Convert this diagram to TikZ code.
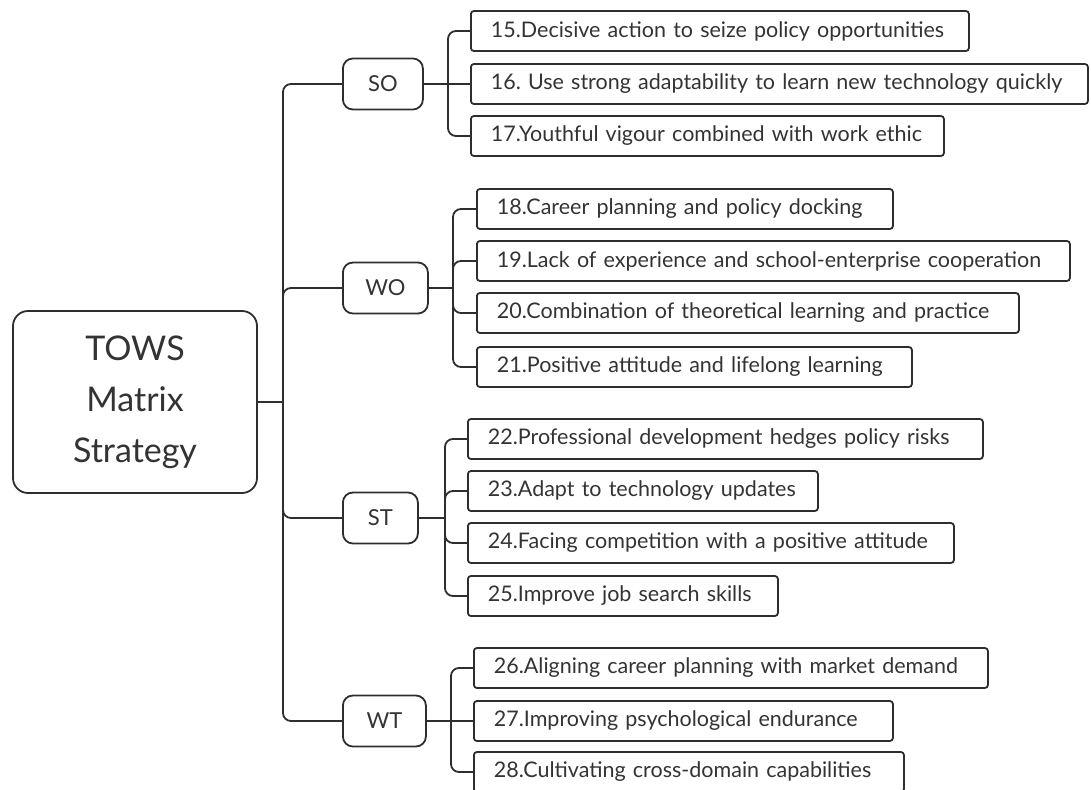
\documentclass[tikz,border=0pt]{standalone}
\usepackage{fontspec}
\setmainfont{Lato}
\frenchspacing
\definecolor{ink}{HTML}{2E2E2E}
\definecolor{txt}{HTML}{333333}
\begin{document}
\begin{tikzpicture}[x=1pt,y=-1pt,
  link/.style={draw=ink, line width=1.8pt, rounded corners=8pt},
  rootbox/.style={draw=ink, line width=1.8pt, rounded corners=15pt, minimum width=244pt,
    minimum height=182pt, align=center, text=txt,
    font=\fontsize{34}{51}\selectfont},
  catbox/.style={draw=ink, line width=1.8pt, rounded corners=10pt, minimum height=51pt,
    anchor=west, inner sep=0pt, text=txt, font=\fontsize{22}{26}\selectfont},
  leaf/.style={draw=ink, line width=1.8pt, rounded corners=3pt, minimum height=40pt,
    inner xsep=20pt, inner ysep=0pt, anchor=west, align=left, text=txt,
    font=\fontsize{21.5}{25}\selectfont}]
\useasboundingbox (0,0) rectangle (1091,789);

% root and the four strategy groups
\node[rootbox] (root) at (135,402) {TOWS\\Matrix\\Strategy};
\node[catbox, minimum width=80pt] (so) at (342,84) {SO};
\node[catbox, minimum width=85pt] (wo) at (342,288) {WO};
\node[catbox, minimum width=75pt] (st) at (342,518) {ST};
\node[catbox, minimum width=83pt] (wt) at (342,721) {WT};

% SO strategies
\node[leaf, text width=458pt] (l15) at (470,31) {15.Decisive action to seize policy opportunities};
\node[leaf, text width=577pt] (l16) at (470,84) {16. Use strong adaptability to learn new technology quickly};
\node[leaf, text width=433pt] (l17) at (470,136) {17.Youthful vigour combined with work ethic};
% WO strategies
\node[leaf, text width=376pt] (l18) at (476,209) {18.Career planning and policy docking};
\node[leaf, text width=553pt] (l19) at (476,261) {19.Lack of experience and school-enterprise cooperation};
\node[leaf, text width=502pt] (l20) at (476,313) {20.Combination of theoretical learning and practice};
\node[leaf, text width=395pt] (l21) at (476,367) {21.Positive attitude and lifelong learning};
% ST strategies
\node[leaf, text width=475pt] (l22) at (467,439) {22.Professional development hedges policy risks};
\node[leaf, text width=310pt] (l23) at (467,491) {23.Adapt to technology updates};
\node[leaf, text width=446pt] (l24) at (467,543) {24.Facing competition with a positive attitude};
\node[leaf, text width=270pt] (l25) at (467,596) {25.Improve job search skills};
% WT strategies
\node[leaf, text width=474pt] (l26) at (473,668) {26.Aligning career planning with market demand};
\node[leaf, text width=379pt] (l27) at (473,721) {27.Improving psychological endurance};
\node[leaf, text width=390pt] (l28) at (473,772) {28.Cultivating cross-domain capabilities};

% junction points
\coordinate (trunk) at (283,402);
\coordinate (sob) at (448,84);
\coordinate (wob) at (453,288);
\coordinate (stb) at (445,518);
\coordinate (wtb) at (451,721);

% root to groups
\draw[link] (root.east) -- (trunk);
\foreach \c in {so,wo,st,wt} \draw[link] (trunk) |- (\c.west);

% groups to strategies
\draw[link] (so.east) -- (sob);
\draw[link] (sob) |- (l15.west);
\draw[link] (sob) -- (l16.west);
\draw[link] (sob) |- (l17.west);

\draw[link] (wo.east) -- (wob);
\foreach \l in {l18,l19,l20,l21} \draw[link] (wob) |- (\l.west);

\draw[link] (st.east) -- (stb);
\foreach \l in {l22,l23,l24,l25} \draw[link] (stb) |- (\l.west);

\draw[link] (wt.east) -- (wtb);
\draw[link] (wtb) |- (l26.west);
\draw[link] (wtb) -- (l27.west);
\draw[link] (wtb) |- (l28.west);
\end{tikzpicture}
\end{document}
